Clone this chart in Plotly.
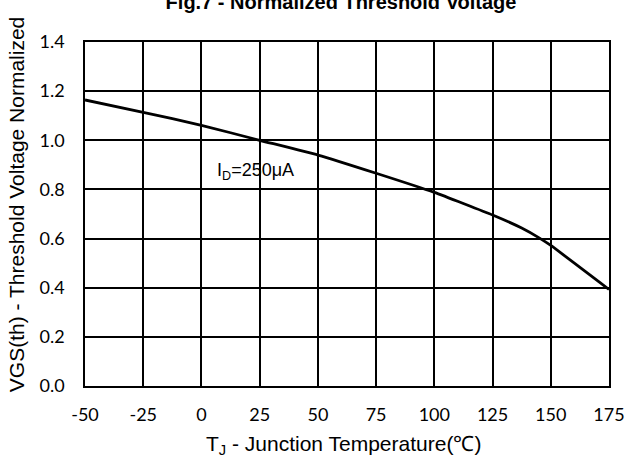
import plotly.graph_objects as go

temps = [-50, -25, 0, 25, 50, 75, 100, 125, 137.5, 145, 150, 175]
vth_norm = [1.164, 1.114, 1.061, 1.0, 0.94, 0.866, 0.788, 0.696, 0.643, 0.603, 0.572, 0.393]
x_ticks = [-50, -25, 0, 25, 50, 75, 100, 125, 150, 175]
y_ticks = [0.0, 0.2, 0.4, 0.6, 0.8, 1.0, 1.2, 1.4]

W, H = 637, 465
L, R, T, B = 85, 19, 42, 79
PW, PH = W - L - R, H - T - B

fig = go.Figure()
fig.add_trace(go.Scatter(x=temps, y=vth_norm, mode="lines",
                         line=dict(color="black", width=2.8, shape="spline", smoothing=0.4),
                         showlegend=False, hoverinfo="skip"))

tick_font = dict(family="Lato, Liberation Sans, sans-serif", size=18, color="black")
fig.update_xaxes(range=[-50, 175], tickvals=x_ticks, ticktext=[str(t) for t in x_ticks],
                 showgrid=True, gridcolor="black", gridwidth=1.5, zeroline=False,
                 showline=True, linecolor="black", linewidth=1.5, mirror=True,
                 ticks="", tickfont=tick_font, ticklabelstandoff=12)
fig.update_yaxes(range=[0, 1.4], tickvals=y_ticks, ticktext=[f"{v:.1f}" for v in y_ticks],
                 showgrid=True, gridcolor="black", gridwidth=1.5, zeroline=False,
                 showline=True, linecolor="black", linewidth=1.5, mirror=True,
                 ticks="", tickfont=tick_font, ticklabelstandoff=15)

label_font = dict(family="Liberation Sans, Arial, sans-serif", size=21, color="black")
fig.add_annotation(x=5.7, y=0.872, xref="x", yref="y", text="I<sub>D</sub>=250μA",
                   showarrow=False, xanchor="left", yanchor="middle",
                   font=dict(family="Liberation Sans, Arial, sans-serif", size=18, color="black"))
fig.add_annotation(x=(16 - L) / PW, y=(H - B - 205) / PH, xref="paper", yref="paper",
                   text="VGS(th) - Threshold Voltage Normalized", textangle=-90,
                   showarrow=False, xanchor="center", yanchor="middle", font=label_font)
fig.add_annotation(x=(348 - L) / PW, y=-(445 - (H - B)) / PH, xref="paper", yref="paper",
                   text="T<sub>J</sub> - Junction Temperature(℃)",
                   showarrow=False, xanchor="center", yanchor="middle", font=label_font)

fig.update_layout(
    width=W, height=H,
    margin=dict(l=L, r=R, t=T, b=B),
    paper_bgcolor="white", plot_bgcolor="white",
    title=dict(text="<b>Fig.7 - Normalized Threshold Voltage</b>", x=341 / W, xanchor="center",
               y=1 - 2 / H, yanchor="middle", yref="container",
               font=dict(family="Liberation Sans, Arial, sans-serif", size=20, color="black")),
)

fig.write_html("out.html", config={"displayModeBar": False},
               post_script="document.body.style.margin='0';")
